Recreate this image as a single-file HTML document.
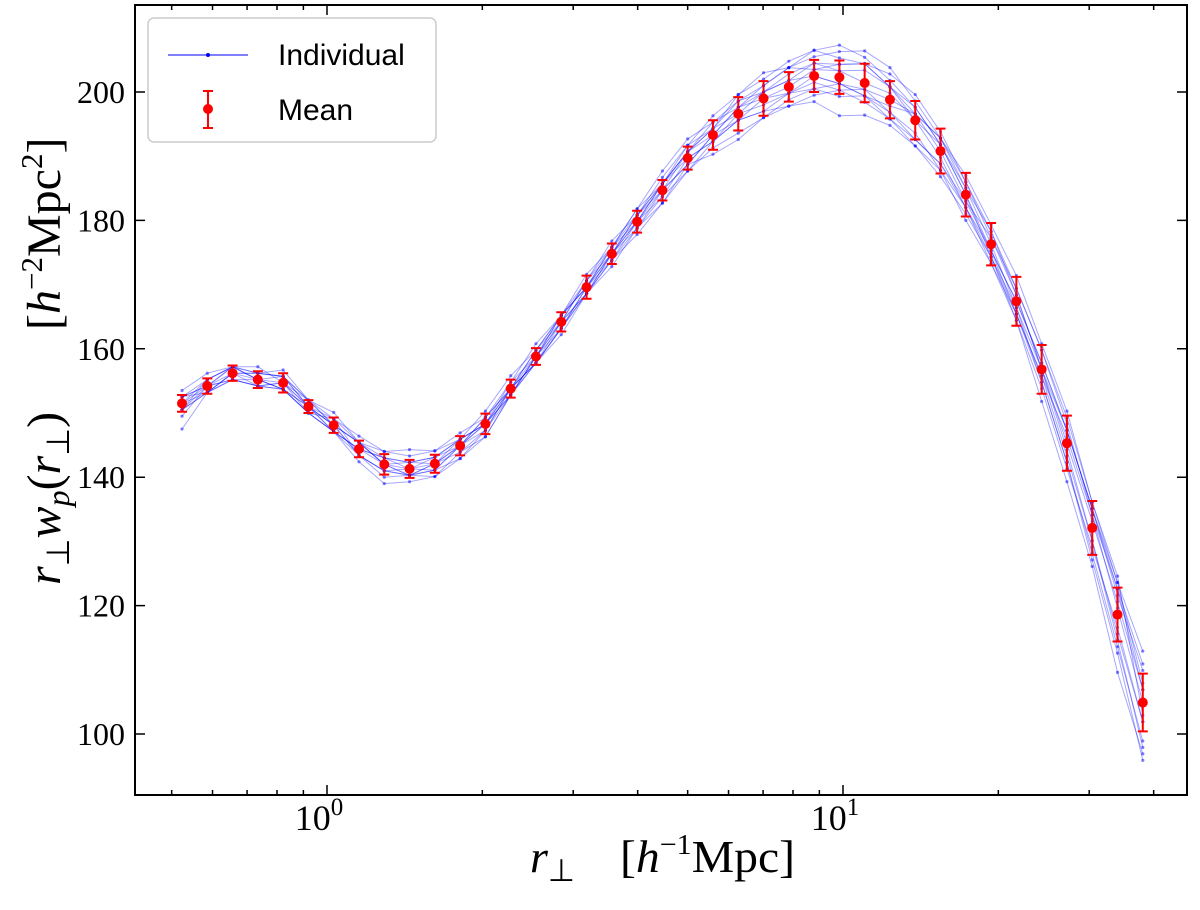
<!DOCTYPE html>
<html><head><meta charset="utf-8"><style>
body{margin:0;background:#fff;}
svg text{font-family:"Liberation Serif",serif;}
</style></head><body>
<svg id="chart" width="1200" height="905" xmlns="http://www.w3.org/2000/svg"></svg>
<script>
const meanVals=[151.5,154.2,156.2,155.2,154.7,151,148.1,144.4,142,141.3,142.1,144.9,148.3,153.8,158.8,164.2,169.6,174.8,179.8,184.7,189.7,193.3,196.6,199,200.8,202.5,202.3,201.4,198.8,195.6,190.8,184,176.3,167.4,156.8,145.3,132.1,118.6,104.9];
const errVals=[1.3,1.2,1.2,1.3,1.5,1.0,1.2,1.3,1.6,1.4,1.4,1.5,1.6,1.4,1.3,1.5,1.8,1.6,1.7,1.6,1.8,2.3,2.6,2.7,2.3,2.5,2.6,3.0,2.9,3.0,3.5,3.4,3.3,3.8,3.8,4.3,4.2,4.2,4.5];
const logXStart=-0.281, logXStep=0.0490;
const yTicks=[100,120,140,160,180,200];
const devs=[
[-4,-1,0,-1,0,0,-1,0,1,0,-1,0,1,1,0,0,1,2,1,2,2,3,3,4,3,4,5,4,3,2,1,0,-2,-3,-5,-6,-6,-9,-8],
[2,2,1,1,1,1,0,1,2,2,2,1,0,-1,-1,0,-1,-2,-1,-2,-2,-2,-3,-3,-2,-2,-3,-2,-1,1,2,3,3,4,4,5,4,5,8],
[1,0,-1,0,-1,-1,1,-1,-2,-1,0,1,2,2,1,1,2,1,2,3,3,2,2,1,1,2,2,3,4,4,3,2,2,1,0,-1,-2,-3,-3],
[-1,-1,0,1,1,1,2,1,0,-1,-2,-2,-1,0,-1,-1,0,-1,-2,-2,-1,-3,-4,-3,-3,-4,-6,-5,-4,-4,-3,-2,-1,0,1,2,3,4,2],
[0,1,1,0,-1,0,-1,-2,-3,-2,-2,-1,-2,-1,0,1,1,0,0,1,1,2,1,2,3,3,4,5,5,3,2,1,0,-1,-2,-3,-5,-6,-9],
[1,-1,-1,-1,-1,0,1,2,2,3,2,2,1,0,1,0,-1,-1,0,-1,0,-1,0,-1,-1,-1,-2,-1,-2,-2,-3,-4,-3,-2,-1,1,2,4,6],
[-2,0,1,1,2,1,0,-1,-1,-1,-1,-2,-2,-1,-1,-1,-1,0,1,0,1,1,2,2,3,1,1,0,1,0,1,1,2,2,3,3,2,1,0],
[1,1,1,2,0,-1,-1,0,1,1,0,0,0,1,2,1,0,0,-1,-1,-2,-1,-1,0,-1,0,-1,-2,-3,-3,-2,-2,-3,-3,-3,-4,-3,-2,-3],
[0,-1,-1,-1,0,1,1,1,0,-1,-1,0,1,0,0,-1,-1,-1,-1,0,-1,0,1,1,2,2,1,2,2,1,0,-1,-1,0,1,2,3,3,5],
[-1,0,0,1,1,0,0,1,1,1,1,1,0,-1,0,1,0,1,0,1,0,-1,-1,-2,-1,-2,-1,-1,0,1,2,2,1,1,0,0,1,2,2],
[1,0,-1,-1,-1,-1,-1,-1,-1,0,1,1,0,0,-1,-2,-1,0,0,0,-1,0,1,0,0,1,2,3,2,2,1,0,-1,-2,-2,-3,-4,-5,-6],
[-1,1,1,0,0,0,0,1,0,0,0,-1,-1,-1,0,0,1,1,2,1,1,1,0,1,1,0,-1,-2,-2,-3,-2,-1,1,2,3,4,4,6,-2],
[0,0,1,0,1,0,0,-1,-1,-1,0,0,-1,0,1,1,0,1,1,1,2,1,3,3,4,4,3,3,2,0,-1,-2,-2,-2,-1,-2,-2,-4,-7],
[-1,-1,0,0,-1,-1,-1,0,0,1,1,0,0,0,-1,-1,0,0,1,1,1,0,-1,-2,-3,-3,-2,-3,-3,-4,-4,-3,-2,-1,0,2,3,5,3]
];
const NS="http://www.w3.org/2000/svg";
const svg=document.getElementById('chart');
const L=135,R=1187,T=5,B=795,dec=516,x0=327;
const X=lx=>x0+lx*dec;
const Y=v=>734-(v-100)*6.42;
function mk(tag,attrs,parent){const e=document.createElementNS(NS,tag);for(const k in attrs)e.setAttribute(k,attrs[k]);(parent||svg).appendChild(e);return e;}
const n=meanVals.length;
const xs=[];for(let i=0;i<n;i++)xs.push(X(logXStart+i*logXStep));
const gInd=mk('g',{});


devs.forEach((d,j)=>{
  const pts=d.map((v,i)=>xs[i].toFixed(1)+','+Y(meanVals[i]+v).toFixed(1)).join(' ');
  const pl=mk('polyline',{points:pts,fill:'none',stroke:'#0000ff','stroke-opacity':0.35,'stroke-width':1},gInd);
  
  
  d.forEach((v,i)=>{const c=mk('circle',{cx:xs[i],cy:Y(meanVals[i]+v),r:1.6,fill:'#0000ff','fill-opacity':0.5},gInd);
    
    });
});
const gM=mk('g',{});


meanVals.forEach((v,i)=>{
  const x=xs[i],y1=Y(v+errVals[i]),y2=Y(v-errVals[i]);
  const eb=mk('path',{d:`M${x},${y1}V${y2}M${x-5},${y1}H${x+5}M${x-5},${y2}H${x+5}`,stroke:'#ff0000','stroke-width':2,fill:'none'},gM);
  
  
  const c=mk('circle',{cx:x,cy:Y(v),r:5,fill:'#ff0000'},gM);
  
  
});
const fr=mk('rect',{x:L,y:T,width:R-L,height:B-T,fill:'none',stroke:'#000','stroke-width':2});


yTicks.forEach(v=>{const y=Y(v);
  mk('path',{d:`M${L},${y}h10M${R},${y}h-10`,stroke:'#000','stroke-width':1.5});
  const t=mk('text',{x:125,y:y+11,'text-anchor':'end','font-size':32});t.textContent=v;
  
  });
for(let e=-1;e<=1;e++){for(let m=1;m<10;m++){const lx=e+Math.log10(m);const x=X(lx);if(x<L||x>R)continue;
  const len=m==1?10:5;mk('path',{d:`M${x},${B}v-${len}M${x},${T}v${len}`,stroke:'#000','stroke-width':1.5});}}
[0,1].forEach(e=>{const t=mk('text',{x:X(e)-8,y:830,'text-anchor':'middle','font-size':36});t.innerHTML='10<tspan dy="-15" font-size="25">'+e+'</tspan>';
  
  });
const xt=mk('text',{x:530,y:872,'font-size':46});
xt.innerHTML='<tspan font-style="italic">r</tspan><tspan font-size="31" dy="9">⊥</tspan>';


const xt2=mk('text',{x:620,y:872,'font-size':46,textLength:175,lengthAdjust:'spacingAndGlyphs'});
xt2.innerHTML='[<tspan font-style="italic">h</tspan><tspan font-size="29" dy="-18">−1</tspan><tspan dy="18">Mpc]</tspan>';


const yt=mk('text',{x:0,y:0,'font-size':48,transform:'translate(60,585) rotate(-90)'});
yt.innerHTML='<tspan font-style="italic">r</tspan><tspan font-size="32" dy="9">⊥</tspan><tspan dy="-9" font-style="italic">w</tspan><tspan font-size="32" dy="9" font-style="italic">p</tspan><tspan dy="-9">(</tspan><tspan font-style="italic">r</tspan><tspan font-size="32" dy="9">⊥</tspan><tspan dy="-9">)</tspan>';


const yt2=mk('text',{x:0,y:0,'font-size':48,transform:'translate(60,330) rotate(-90)'});
yt2.innerHTML='[<tspan font-style="italic">h</tspan><tspan font-size="31" dy="-18">−2</tspan><tspan dy="18">Mpc</tspan><tspan font-size="31" dy="-18">2</tspan><tspan dy="18">]</tspan>';


const lg=mk('g',{});


mk('rect',{x:148,y:18,width:288,height:124,rx:6,fill:'#fff',stroke:'#ccc','stroke-width':1.5},lg);
const li=mk('g',{},lg);


mk('line',{x1:168,y1:55,x2:248,y2:55,stroke:'#0000ff','stroke-width':1},li);
mk('circle',{cx:208,cy:55,r:2,fill:'#0000ff'},li);
const t1=mk('text',{x:278,y:65,'font-size':30,style:'font-family:"Liberation Sans",sans-serif'},li);t1.textContent='Individual';
const lm=mk('g',{},lg);


mk('path',{d:'M208,91V128M203,91H213M203,128H213',stroke:'#ff0000','stroke-width':2},lm);
mk('circle',{cx:208,cy:109,r:5,fill:'#ff0000'},lm);
const t2=mk('text',{x:278,y:120,'font-size':30,style:'font-family:"Liberation Sans",sans-serif'},lm);t2.textContent='Mean';
</script>
</body></html>
